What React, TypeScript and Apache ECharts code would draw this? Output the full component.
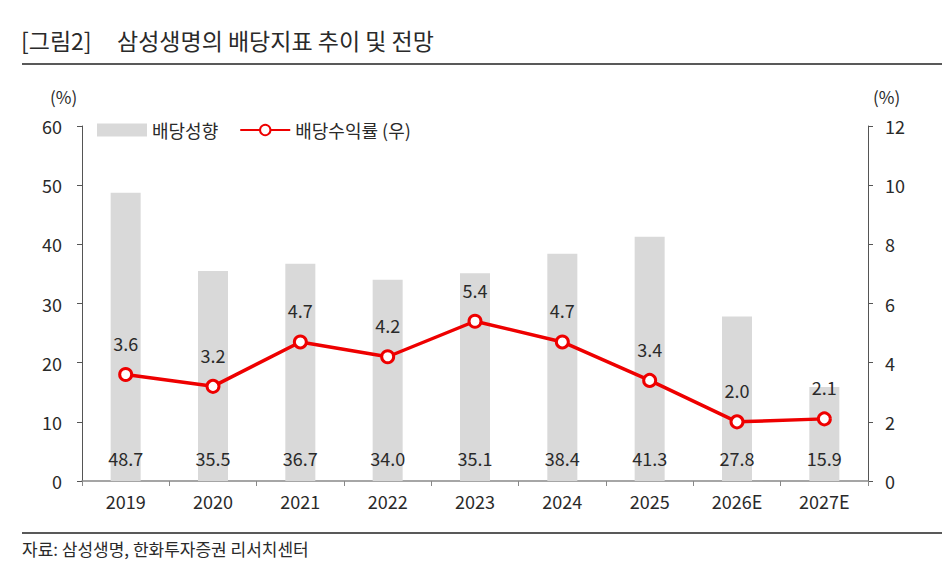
import React, { useEffect, useRef } from "react";
import * as echarts from "echarts";

const categories = ["2019", "2020", "2021", "2022", "2023", "2024", "2025", "2026E", "2027E"];
const payoutRatio = [48.7, 35.5, 36.7, 34.0, 35.1, 38.4, 41.3, 27.8, 15.9];
const dividendYield = [3.6, 3.2, 4.7, 4.2, 5.4, 4.7, 3.4, 2.0, 2.1];

const FONT = "'Noto Sans CJK KR', 'Noto Sans', sans-serif";
const AXIS_COLOR = "#555555";
const TEXT = "#2a2a2a";

export default function App() {
  const ref = useRef<HTMLDivElement>(null);
  useEffect(() => {
    if (!ref.current) return;
    const chart = echarts.init(ref.current, undefined, { renderer: "svg" });
    chart.setOption({
      animation: false,
      backgroundColor: "#ffffff",
      textStyle: { fontFamily: FONT },
      grid: { left: 82, right: 84, top: 126, bottom: 99, containLabel: false },
      legend: {
        left: 92,
        top: 116,
        itemWidth: 50,
        itemHeight: 13,
        itemGap: 21,
        textStyle: { fontFamily: FONT, fontSize: 18, color: TEXT },
        data: [
          { name: "배당성향", icon: "rect" },
          { name: "배당수익률 (우)" },
        ],
      },
      xAxis: {
        type: "category",
        data: categories,
        axisLine: { lineStyle: { color: "#888888", width: 1.5 } },
        axisTick: { show: true, alignWithLabel: false, length: 5, lineStyle: { color: "#888888" } },
        axisLabel: { fontFamily: FONT, fontSize: 18, color: TEXT, margin: 11 },
      },
      yAxis: [
        {
          type: "value",
          min: 0,
          max: 60,
          interval: 10,
          axisLine: { show: true, lineStyle: { color: AXIS_COLOR } },
          axisTick: { show: true, length: 5, lineStyle: { color: AXIS_COLOR } },
          splitLine: { show: false },
          axisLabel: { fontFamily: FONT, fontSize: 18, color: TEXT, margin: 20 },
        },
        {
          type: "value",
          min: 0,
          max: 12,
          interval: 2,
          position: "right",
          axisLine: { show: true, lineStyle: { color: AXIS_COLOR } },
          axisTick: { show: true, length: 5, lineStyle: { color: AXIS_COLOR } },
          splitLine: { show: false },
          axisLabel: { fontFamily: FONT, fontSize: 18, color: TEXT, margin: 17 },
        },
      ],
      series: [
        {
          name: "배당성향",
          type: "bar",
          data: payoutRatio,
          barWidth: 30,
          itemStyle: { color: "#d9d9d9" },
          label: {
            show: true,
            position: "insideBottom",
            distance: 14,
            fontFamily: FONT,
            fontSize: 18,
            color: TEXT,
            formatter: (p: any) => Number(p.value).toFixed(1),
          },
          z: 1,
        },
        {
          name: "배당수익률 (우)",
          type: "line",
          yAxisIndex: 1,
          data: dividendYield,
          symbol: "circle",
          symbolSize: 12,
          lineStyle: { color: "#ee0000", width: 3.5 },
          itemStyle: { color: "#ffffff", borderColor: "#ee0000", borderWidth: 3 },
          label: {
            show: true,
            position: "top",
            distance: 15,
            fontFamily: FONT,
            fontSize: 18,
            color: TEXT,
            formatter: (p: any) => Number(p.value).toFixed(1),
          },
          z: 3,
        },
      ],
      graphic: [
        {
          type: "text",
          left: 21,
          top: 28,
          style: { text: "[그림2]", font: `23px ${FONT}`, fill: TEXT },
        },
        {
          type: "text",
          left: 117,
          top: 28,
          style: { text: "삼성생명의 배당지표 추이 및 전망", font: `23px ${FONT}`, fill: TEXT },
        },
        {
          type: "line",
          shape: { x1: 22, y1: 64, x2: 942, y2: 64 },
          style: { stroke: "#222", lineWidth: 1.5 },
        },
        {
          type: "text",
          left: 50,
          top: 88,
          style: { text: "(%)", font: `17px ${FONT}`, fill: TEXT },
        },
        {
          type: "text",
          left: 873,
          top: 88,
          style: { text: "(%)", font: `17px ${FONT}`, fill: TEXT },
        },
        {
          type: "line",
          shape: { x1: 22, y1: 533, x2: 942, y2: 533 },
          style: { stroke: "#222", lineWidth: 1.5 },
        },
        {
          type: "text",
          left: 22,
          top: 540,
          style: { text: "자료: 삼성생명, 한화투자증권 리서치센터", font: `17px ${FONT}`, fill: TEXT },
        },
      ],
    });
    return () => chart.dispose();
  }, []);
  return (
    <div
      ref={ref}
      style={{ position: "fixed", left: 0, top: 0, width: 952, height: 580, background: "#fff" }}
    />
  );
}
